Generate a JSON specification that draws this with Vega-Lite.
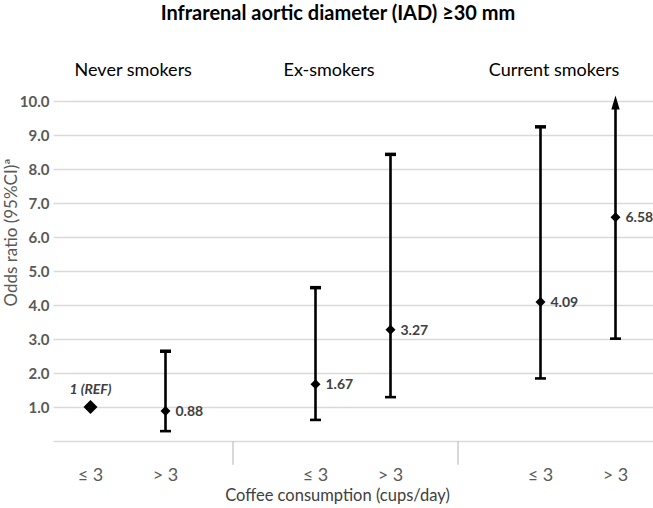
{
  "$schema": "https://vega.github.io/schema/vega-lite/v6.json",
  "autosize": "none",
  "width": 600,
  "height": 340,
  "padding": {"left": 53, "top": 101, "right": 0, "bottom": 67},
  "background": "white",
  "config": {"view": {"stroke": null}, "font": "Lato", "axisY": {"tickCount": 11, "labelOverlap": false}},
  "title": {"text": "Infrarenal aortic diameter (IAD) ≥30 mm", "font": "Lato", "fontSize": 20, "fontWeight": "bold", "color": "#000000", "anchor": "middle", "frame": "group", "dx": -15, "offset": 38},
  "datasets": {
    "or": [
      {"smoking": "Never smokers", "coffee": "≤ 3", "cat": "Never ≤3", "or": 1.0, "lo": null, "hi": null, "ref": true, "arrow": false},
      {"smoking": "Never smokers", "coffee": "> 3", "cat": "Never >3", "or": 0.88, "lo": 0.29, "hi": 2.64, "ref": false, "arrow": false},
      {"smoking": "Ex-smokers", "coffee": "≤ 3", "cat": "Ex ≤3", "or": 1.67, "lo": 0.62, "hi": 4.51, "ref": false, "arrow": false},
      {"smoking": "Ex-smokers", "coffee": "> 3", "cat": "Ex >3", "or": 3.27, "lo": 1.29, "hi": 8.43, "ref": false, "arrow": false},
      {"smoking": "Current smokers", "coffee": "≤ 3", "cat": "Current ≤3", "or": 4.09, "lo": 1.84, "hi": 9.24, "ref": false, "arrow": false},
      {"smoking": "Current smokers", "coffee": "> 3", "cat": "Current >3", "or": 6.58, "lo": 3.01, "hi": 10.0, "ref": false, "arrow": true}
    ],
    "groupsA": [{"group": "Never smokers", "cat": "Never >3"}],
    "groupsB": [{"group": "Ex-smokers", "cat": "Ex ≤3"}, {"group": "Current smokers", "cat": "Current ≤3"}],
    "seps": [{"cat": "gap1"}, {"cat": "gap2"}]
  },
  "data": {"name": "or"},
  "encoding": {
    "x": {
      "field": "cat", "type": "nominal", "sort": null,
      "scale": {"domain": ["Never ≤3", "Never >3", "gap1", "Ex ≤3", "Ex >3", "gap2", "Current ≤3", "Current >3"], "paddingInner": 0, "paddingOuter": 0},
      "axis": {
        "orient": "bottom", "domain": false, "ticks": false, "grid": false, "labelAngle": 0,
        "labelPadding": 25, "labelFontSize": 18, "labelColor": "#595959",
        "labelExpr": "indexof(datum.value,'≤')>=0 ? '≤ 3' : (indexof(datum.value,'>')>=0 ? '> 3' : '')",
        "title": "Coffee consumption (cups/day)", "titleFontSize": 16.5, "titleFontWeight": "normal", "titleColor": "#404040",
        "titlePadding": 3, "titleX": 284
      }
    }
  },
  "layer": [
    {
      "transform": [{"filter": "datum.lo != null"}],
      "mark": {"type": "rule", "color": "#000000", "strokeWidth": 2.6},
      "encoding": {
        "y": {"field": "lo", "type": "quantitative", "scale": {"domain": [0, 10], "nice": false, "zero": true},
          "axis": {"values": [0, 1, 2, 3, 4, 5, 6, 7, 8, 9, 10], "tickCount": 11, "labelOverlap": false, "grid": true, "gridColor": "#d9d9d9", "gridWidth": 1.3, "domain": false, "ticks": false, "labelPadding": 4, "labelExpr": "datum.value == 0 ? '' : format(datum.value, '.1f')", "labelFontWeight": "bold", "labelFontSize": 15, "labelColor": "#595959", "title": "Odds ratio (95%CI)ª", "titleFontSize": 17, "titleFontWeight": "normal", "titleColor": "#595959", "titleX": -33, "titleY": 131}},
        "y2": {"field": "hi"}
      }
    },
    {
      "transform": [{"filter": "datum.lo != null"}],
      "mark": {"type": "tick", "color": "#000000", "thickness": 2.6, "size": 11, "opacity": 1},
      "encoding": {"y": {"field": "lo", "type": "quantitative",
        "axis": {"values": [0, 1, 2, 3, 4, 5, 6, 7, 8, 9, 10], "tickCount": 11, "labelOverlap": false, "grid": true, "gridColor": "#d9d9d9", "gridWidth": 1.3, "domain": false, "ticks": false, "labelPadding": 4, "labelExpr": "datum.value == 0 ? '' : format(datum.value, '.1f')", "labelFontWeight": "bold", "labelFontSize": 15, "labelColor": "#595959", "title": "Odds ratio (95%CI)ª", "titleFontSize": 17, "titleFontWeight": "normal", "titleColor": "#595959", "titleX": -33, "titleY": 131}}}
    },
    {
      "transform": [{"filter": "datum.hi != null && !datum.arrow"}],
      "mark": {"type": "tick", "color": "#000000", "thickness": 3.5, "size": 11, "opacity": 1},
      "encoding": {"y": {"field": "hi", "type": "quantitative",
        "axis": {"values": [0, 1, 2, 3, 4, 5, 6, 7, 8, 9, 10], "tickCount": 11, "labelOverlap": false, "grid": true, "gridColor": "#d9d9d9", "gridWidth": 1.3, "domain": false, "ticks": false, "labelPadding": 4, "labelExpr": "datum.value == 0 ? '' : format(datum.value, '.1f')", "labelFontWeight": "bold", "labelFontSize": 15, "labelColor": "#595959", "title": "Odds ratio (95%CI)ª", "titleFontSize": 17, "titleFontWeight": "normal", "titleColor": "#595959", "titleX": -33, "titleY": 131}}}
    },
    {
      "transform": [{"filter": "datum.arrow"}],
      "mark": {"type": "point", "shape": "M0,-0.8L0.6,1.2L-0.6,1.2Z", "filled": true, "color": "#000000", "size": 196, "opacity": 1},
      "encoding": {"y": {"field": "hi", "type": "quantitative",
        "axis": {"values": [0, 1, 2, 3, 4, 5, 6, 7, 8, 9, 10], "tickCount": 11, "labelOverlap": false, "grid": true, "gridColor": "#d9d9d9", "gridWidth": 1.3, "domain": false, "ticks": false, "labelPadding": 4, "labelExpr": "datum.value == 0 ? '' : format(datum.value, '.1f')", "labelFontWeight": "bold", "labelFontSize": 15, "labelColor": "#595959", "title": "Odds ratio (95%CI)ª", "titleFontSize": 17, "titleFontWeight": "normal", "titleColor": "#595959", "titleX": -33, "titleY": 131}}}
    },
    {
      "transform": [{"filter": "!datum.ref"}],
      "mark": {"type": "point", "shape": "diamond", "filled": true, "color": "#000000", "size": 100, "opacity": 1},
      "encoding": {"y": {"field": "or", "type": "quantitative",
        "axis": {"values": [0, 1, 2, 3, 4, 5, 6, 7, 8, 9, 10], "tickCount": 11, "labelOverlap": false, "grid": true, "gridColor": "#d9d9d9", "gridWidth": 1.3, "domain": false, "ticks": false, "labelPadding": 4, "labelExpr": "datum.value == 0 ? '' : format(datum.value, '.1f')", "labelFontWeight": "bold", "labelFontSize": 15, "labelColor": "#595959", "title": "Odds ratio (95%CI)ª", "titleFontSize": 17, "titleFontWeight": "normal", "titleColor": "#595959", "titleX": -33, "titleY": 131}}}
    },
    {
      "transform": [{"filter": "datum.ref"}],
      "mark": {"type": "point", "shape": "diamond", "filled": true, "color": "#000000", "size": 196, "opacity": 1},
      "encoding": {"y": {"field": "or", "type": "quantitative",
        "axis": {"values": [0, 1, 2, 3, 4, 5, 6, 7, 8, 9, 10], "tickCount": 11, "labelOverlap": false, "grid": true, "gridColor": "#d9d9d9", "gridWidth": 1.3, "domain": false, "ticks": false, "labelPadding": 4, "labelExpr": "datum.value == 0 ? '' : format(datum.value, '.1f')", "labelFontWeight": "bold", "labelFontSize": 15, "labelColor": "#595959", "title": "Odds ratio (95%CI)ª", "titleFontSize": 17, "titleFontWeight": "normal", "titleColor": "#595959", "titleX": -33, "titleY": 131}}}
    },
    {
      "transform": [{"filter": "!datum.ref"}],
      "mark": {"type": "text", "align": "left", "baseline": "middle", "dx": 10, "dy": 1, "fontSize": 14, "fontWeight": "bold", "color": "#404040"},
      "encoding": {"y": {"field": "or", "type": "quantitative",
        "axis": {"values": [0, 1, 2, 3, 4, 5, 6, 7, 8, 9, 10], "tickCount": 11, "labelOverlap": false, "grid": true, "gridColor": "#d9d9d9", "gridWidth": 1.3, "domain": false, "ticks": false, "labelPadding": 4, "labelExpr": "datum.value == 0 ? '' : format(datum.value, '.1f')", "labelFontWeight": "bold", "labelFontSize": 15, "labelColor": "#595959", "title": "Odds ratio (95%CI)ª", "titleFontSize": 17, "titleFontWeight": "normal", "titleColor": "#595959", "titleX": -33, "titleY": 131}},
        "text": {"field": "or", "type": "quantitative", "format": ".2f"}}
    },
    {
      "transform": [{"filter": "datum.ref"}],
      "mark": {"type": "text", "align": "center", "baseline": "middle", "dy": -17, "fontSize": 14, "fontWeight": "bold", "fontStyle": "italic", "color": "#404040"},
      "encoding": {"y": {"field": "or", "type": "quantitative",
        "axis": {"values": [0, 1, 2, 3, 4, 5, 6, 7, 8, 9, 10], "tickCount": 11, "labelOverlap": false, "grid": true, "gridColor": "#d9d9d9", "gridWidth": 1.3, "domain": false, "ticks": false, "labelPadding": 4, "labelExpr": "datum.value == 0 ? '' : format(datum.value, '.1f')", "labelFontWeight": "bold", "labelFontSize": 15, "labelColor": "#595959", "title": "Odds ratio (95%CI)ª", "titleFontSize": 17, "titleFontWeight": "normal", "titleColor": "#595959", "titleX": -33, "titleY": 131}},
        "text": {"value": "1 (REF)"}}
    },
    {
      "data": {"name": "seps"},
      "mark": {"type": "rule", "color": "#bfbfbf", "strokeWidth": 1.2},
      "encoding": {"x": {"field": "cat", "type": "nominal", "bandPosition": 0.4},
        "y": {"datum": 0, "type": "quantitative",
          "axis": {"values": [0, 1, 2, 3, 4, 5, 6, 7, 8, 9, 10], "tickCount": 11, "labelOverlap": false, "grid": true, "gridColor": "#d9d9d9", "gridWidth": 1.3, "domain": false, "ticks": false, "labelPadding": 4, "labelExpr": "datum.value == 0 ? '' : format(datum.value, '.1f')", "labelFontWeight": "bold", "labelFontSize": 15, "labelColor": "#595959", "title": "Odds ratio (95%CI)ª", "titleFontSize": 17, "titleFontWeight": "normal", "titleColor": "#595959", "titleX": -33, "titleY": 131}},
        "y2": {"datum": -0.7}}
    },
    {
      "data": {"name": "groupsA"},
      "mark": {"type": "text", "align": "center", "baseline": "middle", "fontSize": 18, "color": "#000000"},
      "encoding": {"x": {"field": "cat", "type": "nominal", "bandPosition": 0.07},
        "y": {"datum": 10.87, "type": "quantitative",
          "axis": {"values": [0, 1, 2, 3, 4, 5, 6, 7, 8, 9, 10], "tickCount": 11, "labelOverlap": false, "grid": true, "gridColor": "#d9d9d9", "gridWidth": 1.3, "domain": false, "ticks": false, "labelPadding": 4, "labelExpr": "datum.value == 0 ? '' : format(datum.value, '.1f')", "labelFontWeight": "bold", "labelFontSize": 15, "labelColor": "#595959", "title": "Odds ratio (95%CI)ª", "titleFontSize": 17, "titleFontWeight": "normal", "titleColor": "#595959", "titleX": -33, "titleY": 131}},
        "text": {"field": "group"}}
    },
    {
      "data": {"name": "groupsB"},
      "mark": {"type": "text", "align": "center", "baseline": "middle", "fontSize": 18, "color": "#000000"},
      "encoding": {"x": {"field": "cat", "type": "nominal", "bandPosition": 0.68},
        "y": {"datum": 10.87, "type": "quantitative",
          "axis": {"values": [0, 1, 2, 3, 4, 5, 6, 7, 8, 9, 10], "tickCount": 11, "labelOverlap": false, "grid": true, "gridColor": "#d9d9d9", "gridWidth": 1.3, "domain": false, "ticks": false, "labelPadding": 4, "labelExpr": "datum.value == 0 ? '' : format(datum.value, '.1f')", "labelFontWeight": "bold", "labelFontSize": 15, "labelColor": "#595959", "title": "Odds ratio (95%CI)ª", "titleFontSize": 17, "titleFontWeight": "normal", "titleColor": "#595959", "titleX": -33, "titleY": 131}},
        "text": {"field": "group"}}
    }
  ]
}
